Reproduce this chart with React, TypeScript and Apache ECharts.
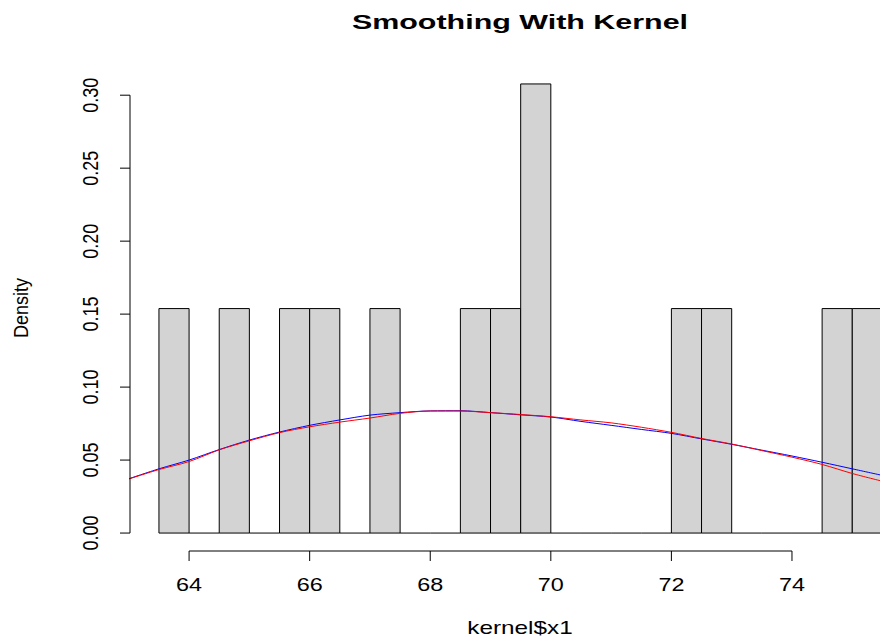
import React, { useEffect, useRef } from "react";
import * as echarts from "echarts";

// Histogram bins (edges) and their densities
const binEdges: number[] = [
  63.5, 64, 64.5, 65, 65.5, 66, 66.5, 67, 67.5, 68, 68.5, 69, 69.5, 70, 70.5,
  71, 71.5, 72, 72.5, 73, 73.5, 74, 74.5, 75, 75.5,
];
const binDensity: number[] = [
  0.1538, 0, 0.1538, 0, 0.1538, 0.1538, 0, 0.1538, 0, 0, 0.1538, 0.1538,
  0.3077, 0, 0, 0, 0, 0.1538, 0.1538, 0, 0, 0, 0.1538, 0.1538,
];

// Kernel-smoothed density curves
const curveX: number[] = [
  63, 63.5, 64, 64.5, 65, 65.5, 66, 66.5, 67, 67.5, 68, 68.5, 69, 69.5, 70,
  70.5, 71, 71.5, 72, 72.5, 73, 73.5, 74, 74.5, 75, 75.5,
];
const blueDensity: number[] = [
  0.0372, 0.044, 0.05, 0.0572, 0.0637, 0.0692, 0.0738, 0.0775, 0.0808,
  0.0825, 0.0837, 0.0838, 0.0825, 0.081, 0.0795, 0.0765, 0.0738, 0.071,
  0.0683, 0.0645, 0.0608, 0.0568, 0.0528, 0.0485, 0.044, 0.0395,
];
const redDensity: number[] = [
  0.037, 0.0435, 0.049, 0.057, 0.0632, 0.0688, 0.0728, 0.076, 0.0788, 0.082,
  0.0836, 0.0836, 0.0825, 0.0812, 0.0797, 0.0775, 0.0755, 0.0725, 0.069,
  0.0648, 0.061, 0.0565, 0.052, 0.047, 0.0408, 0.0355,
];

// Axes
const xTicks: number[] = [64, 66, 68, 70, 72, 74];
const xTickLabels: string[] = ["64", "66", "68", "70", "72", "74"];
const yTicks: number[] = [0, 0.05, 0.1, 0.15, 0.2, 0.25, 0.3];
const yTickLabels: string[] = ["0.00", "0.05", "0.10", "0.15", "0.20", "0.25", "0.30"];
const xRange: number[] = [63.02, 75.46];
const yRange: number[] = [-0.0123, 0.32];

const FONT = '"Liberation Sans", Arial, Helvetica, sans-serif';

export default function App() {
  const ref = useRef<HTMLDivElement>(null);

  useEffect(() => {
    if (!ref.current) return;
    const chart = echarts.init(ref.current, null, { renderer: "svg" });
    const bars = binDensity.map((d, i) => [binEdges[i], binEdges[i + 1], d]);

    chart.setOption({
      animation: false,
      backgroundColor: "#ffffff",
      grid: { left: 130, top: 66, right: 0, height: 485 },
      xAxis: { type: "value", min: xRange[0], max: xRange[1], show: false },
      yAxis: { type: "value", min: yRange[0], max: yRange[1], show: false },
      graphic: [
        {
          type: "text",
          x: 520,
          y: 22,
          scaleX: 1.45,
          style: {
            text: "Smoothing With Kernel",
            font: `bold 21px ${FONT}`,
            fill: "#000",
            align: "center",
            verticalAlign: "middle",
          },
        },
        {
          type: "text",
          x: 21,
          y: 308,
          rotation: Math.PI / 2,
          scaleY: 1.15,
          style: {
            text: "Density",
            font: `18px ${FONT}`,
            fill: "#000",
            align: "center",
            verticalAlign: "middle",
          },
        },
        {
          type: "text",
          x: 520,
          y: 628,
          scaleX: 1.35,
          style: {
            text: "kernel$x1",
            font: `18px ${FONT}`,
            fill: "#000",
            align: "center",
            verticalAlign: "middle",
          },
        },
      ],
      series: [
        {
          type: "custom",
          name: "histogram",
          data: bars,
          encode: { x: [0, 1], y: 2 },
          clip: true,
          z: 1,
          silent: true,
          renderItem: (params: any, api: any) => {
            const x0 = api.value(0);
            const x1 = api.value(1);
            const d = api.value(2);
            const p0 = api.coord([x0, 0]);
            const p1 = api.coord([x1, d]);
            if (d === 0) {
              return {
                type: "line",
                shape: { x1: p0[0], y1: p0[1], x2: p1[0], y2: p0[1] },
                style: { stroke: "#000", lineWidth: 1 },
              };
            }
            return {
              type: "rect",
              shape: {
                x: p0[0],
                y: p1[1],
                width: p1[0] - p0[0],
                height: p0[1] - p1[1],
              },
              style: { fill: "#D3D3D3", stroke: "#000", lineWidth: 1 },
            };
          },
        },
        {
          type: "line",
          name: "blue",
          data: curveX.map((x, i) => [x, blueDensity[i]]),
          showSymbol: false,
          symbol: "none",
          smooth: 0.3,
          z: 2,
          lineStyle: { color: "#0000FF", width: 1 },
        },
        {
          type: "line",
          name: "red",
          data: curveX.map((x, i) => [x, redDensity[i]]),
          showSymbol: false,
          symbol: "none",
          smooth: 0.3,
          z: 3,
          lineStyle: { color: "#FF0000", width: 1 },
        },
        {
          type: "custom",
          name: "xaxis",
          data: xTicks.map((v) => [v, yRange[0]]),
          encode: { x: 0, y: 1 },
          clip: false,
          z: 5,
          silent: true,
          renderItem: (params: any, api: any) => {
            const v = api.value(0);
            const p = api.coord([v, yRange[0]]);
            const children: any[] = [
              {
                type: "line",
                shape: { x1: p[0], y1: p[1], x2: p[0], y2: p[1] + 10 },
                style: { stroke: "#000", lineWidth: 1 },
              },
              {
                type: "text",
                x: p[0],
                y: p[1] + 34,
                scaleX: 1.3,
                style: {
                  text: xTickLabels[params.dataIndex],
                  font: `18px ${FONT}`,
                  fill: "#000",
                  align: "center",
                  verticalAlign: "middle",
                },
              },
            ];
            if (params.dataIndex === 0) {
              const pe = api.coord([xTicks[xTicks.length - 1], yRange[0]]);
              children.push({
                type: "line",
                shape: { x1: p[0], y1: p[1], x2: pe[0], y2: p[1] },
                style: { stroke: "#000", lineWidth: 1 },
              });
            }
            return { type: "group", children };
          },
        },
        {
          type: "custom",
          name: "yaxis",
          data: yTicks.map((v) => [xRange[0], v]),
          encode: { x: 0, y: 1 },
          clip: false,
          z: 5,
          silent: true,
          renderItem: (params: any, api: any) => {
            const v = api.value(1);
            const p = api.coord([xRange[0], v]);
            const children: any[] = [
              {
                type: "line",
                shape: { x1: p[0] - 10, y1: p[1], x2: p[0], y2: p[1] },
                style: { stroke: "#000", lineWidth: 1 },
              },
              {
                type: "text",
                x: p[0] - 40,
                y: p[1],
                rotation: Math.PI / 2,
                scaleY: 1.25,
                style: {
                  text: yTickLabels[params.dataIndex],
                  font: `18px ${FONT}`,
                  fill: "#000",
                  align: "center",
                  verticalAlign: "middle",
                },
              },
            ];
            if (params.dataIndex === 0) {
              const pe = api.coord([xRange[0], yTicks[yTicks.length - 1]]);
              children.push({
                type: "line",
                shape: { x1: p[0], y1: p[1], x2: p[0], y2: pe[1] },
                style: { stroke: "#000", lineWidth: 1 },
              });
            }
            return { type: "group", children };
          },
        },
      ],
    });

    return () => chart.dispose();
  }, []);

  return (
    <div
      ref={ref}
      style={{ position: "absolute", left: 0, top: 0, width: 880, height: 642 }}
    />
  );
}
